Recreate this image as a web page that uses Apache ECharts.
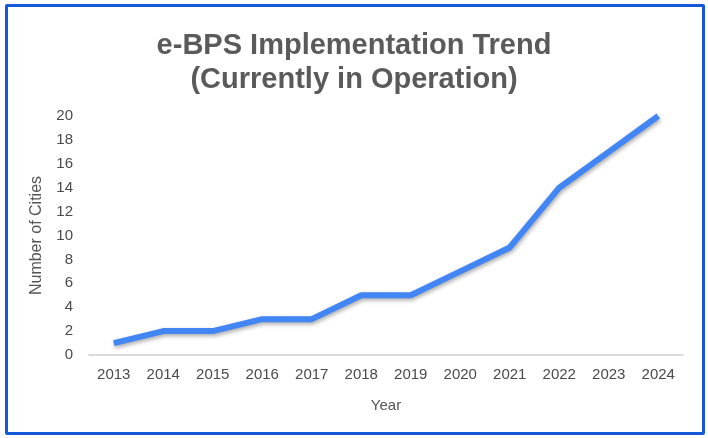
<!DOCTYPE html>
<html>
<head>
<meta charset="utf-8">
<script src="https://cdn.jsdelivr.net/npm/echarts@6/dist/echarts.min.js"></script>
<style>
  html, body { margin: 0; padding: 0; background: #fff; }
  #chart { position: absolute; left: 0; top: 0; width: 708px; height: 438px; }
  #frame { position: absolute; left: 5px; top: 4px; width: 694px; height: 425px;
           border: 3px solid #1559d8; border-radius: 2px; pointer-events: none; }
</style>
</head>
<body>
<div id="chart"></div>
<div id="frame"></div>
<script>
// data
var years = ['2013', '2014', '2015', '2016', '2017', '2018', '2019', '2020', '2021', '2022', '2023', '2024'];
var cities = [1, 2, 2, 3, 3, 5, 5, 7, 9, 14, 17, 20];

var myChart = echarts.init(document.getElementById('chart'));
var options = {
  animation: false,
  title: {
    text: 'e-BPS Implementation Trend\n(Currently in Operation)',
    left: 'center',
    top: 24,
    textStyle: {
      fontFamily: 'Liberation Sans',
      fontSize: 29,
      fontWeight: 'bold',
      color: '#5a5a5a',
      lineHeight: 34
    }
  },
  grid: { left: 89, right: 25, top: 116, bottom: 83 },
  xAxis: {
    type: 'category',
    data: years,
    boundaryGap: true,
    name: 'Year',
    nameLocation: 'middle',
    nameGap: 43,
    nameTextStyle: { fontFamily: 'Liberation Sans', fontSize: 15, color: '#555' },
    axisLine: { lineStyle: { color: '#d0d0d0', width: 1.5 } },
    axisTick: { show: false },
    axisLabel: { fontFamily: 'Liberation Sans', fontSize: 15, color: '#4a4a4a', margin: 12 }
  },
  yAxis: {
    type: 'value',
    min: 0,
    max: 20,
    interval: 2,
    name: 'Number of Cities',
    nameLocation: 'middle',
    nameGap: 44,
    nameTextStyle: { fontFamily: 'Liberation Sans', fontSize: 16, color: '#555' },
    axisLine: { show: false },
    axisTick: { show: false },
    splitLine: { show: false },
    axisLabel: { fontFamily: 'Liberation Sans', fontSize: 15, color: '#4a4a4a', margin: 16 }
  },
  series: [{
    type: 'line',
    data: cities,
    showSymbol: false,
    lineStyle: {
      color: '#4285f4',
      width: 6,
      shadowColor: 'rgba(0,0,0,0.35)',
      shadowBlur: 4,
      shadowOffsetX: 1,
      shadowOffsetY: 2
    }
  }]
};
myChart.setOption(options, true);
</script>
</body>
</html>
